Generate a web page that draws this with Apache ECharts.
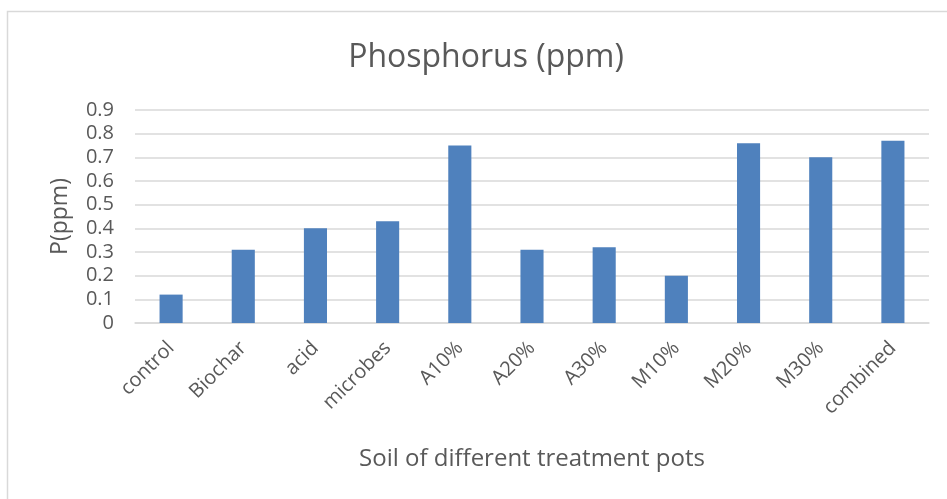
<!DOCTYPE html>
<html>
<head>
<meta charset="utf-8">
<script src="https://cdn.jsdelivr.net/npm/echarts@6/dist/echarts.min.js"></script>
<style>
  html, body { margin: 0; padding: 0; background: #fff; }
  #chart { width: 947px; height: 499px; }
</style>
</head>
<body>
<div id="chart"></div>
<script>
// Phosphorus content of soil per treatment pot
const categories = ['control', 'Biochar', 'acid', 'microbes', 'A10%', 'A20%', 'A30%', 'M10%', 'M20%', 'M30%', 'combined'];
const phosphorus = [0.12, 0.31, 0.40, 0.43, 0.75, 0.31, 0.32, 0.20, 0.76, 0.70, 0.77];
const yTicks = [0, 0.1, 0.2, 0.3, 0.4, 0.5, 0.6, 0.7, 0.8, 0.9];

const FONT = 'Open Sans';
const TEXT = '#595959';
const GRID = '#d9d9d9';

const chart = echarts.init(document.getElementById('chart'), null, { renderer: 'canvas' });
chart.setOption({
  backgroundColor: '#fff',
  animation: false,
  textStyle: { fontFamily: FONT },
  title: {
    text: 'Phosphorus (ppm)',
    left: 481,
    textAlign: 'center',
    top: 37,
    textStyle: { fontFamily: FONT, fontSize: 32, fontWeight: 'normal', color: TEXT }
  },
  graphic: [{
    type: 'rect',
    shape: { x: 7.5, y: 11.5, width: 960, height: 520 },
    style: { fill: 'none', stroke: GRID, lineWidth: 1.5 },
    silent: true,
    z: -1
  }],
  grid: { left: 135, right: 18, top: 110, bottom: 176, containLabel: false },
  xAxis: {
    type: 'category',
    data: categories,
    axisTick: { show: false },
    axisLine: { lineStyle: { color: GRID, width: 1.5 } },
    axisLabel: { rotate: 45, interval: 0, fontFamily: FONT, fontSize: 20, color: TEXT, margin: 22 },
    name: 'Soil of different treatment pots',
    nameLocation: 'middle',
    nameGap: 124,
    nameTextStyle: { fontFamily: FONT, fontSize: 24, color: TEXT }
  },
  yAxis: {
    type: 'value',
    min: yTicks[0],
    max: yTicks[yTicks.length - 1],
    interval: 0.1,
    axisLine: { show: false },
    axisTick: { show: false },
    splitLine: { lineStyle: { color: GRID, width: 1.5 } },
    axisLabel: {
      fontFamily: FONT, fontSize: 20, color: TEXT, margin: 21,
      formatter: v => String(Math.round(v * 10) / 10)
    },
    name: 'P(ppm)',
    nameLocation: 'middle',
    nameGap: 63,
    nameRotate: 90,
    nameTextStyle: { fontFamily: FONT, fontSize: 23, color: TEXT }
  },
  series: [{
    type: 'bar',
    data: phosphorus,
    barWidth: '32%',
    itemStyle: { color: '#4f81bd' }
  }]
});
</script>
</body>
</html>
